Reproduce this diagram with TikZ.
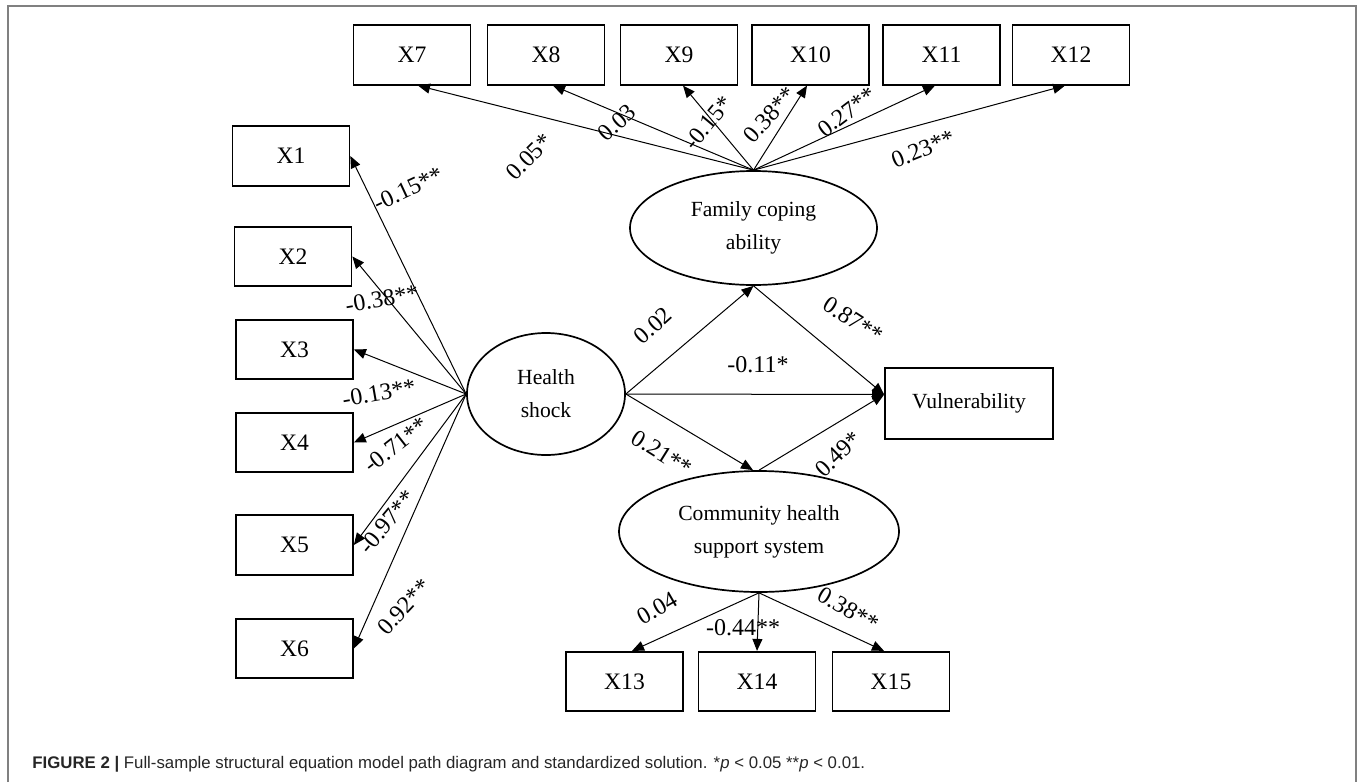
\documentclass[tikz,border=0pt]{standalone}
\usepackage{fontspec}
\setmainfont{Liberation Serif}
\newfontfamily\capfont{Liberation Sans}
\usetikzlibrary{shapes.geometric,arrows.meta}
\begin{document}
\begin{tikzpicture}[x=0.5pt,y=-0.5pt,
  obs/.style={draw, line width=0.85pt, minimum width=58.5pt, minimum height=29.75pt, inner sep=0pt, font=\fontsize{11.8}{13}\selectfont},
  lat/.style={draw, ellipse, line width=0.85pt, inner sep=0pt, align=center, font=\fontsize{10.8}{16.5}\selectfont},
  arr/.style={line width=0.5pt, -{Triangle[length=6pt,width=5pt]}},
  lab/.style={font=\fontsize{12}{13}\selectfont, inner sep=0pt}
]
\useasboundingbox (0,0) rectangle (1360,782);
\draw[black!50, line width=0.8pt] (7.7,782) -- (7.7,5.7) -- (1355.7,5.7) -- (1355.7,782);

% observed variables
\node[obs] (x1) at (291,156) {X1};
\node[obs] (x2) at (293,256.5) {X2};
\node[obs] (x3) at (294.5,349.5) {X3};
\node[obs] (x4) at (294.5,442.5) {X4};
\node[obs] (x5) at (294.5,545) {X5};
\node[obs] (x6) at (294.5,648.5) {X6};
\node[obs] (x7) at (412,55) {X7};
\node[obs] (x8) at (546,55) {X8};
\node[obs] (x9) at (679,55) {X9};
\node[obs] (x10) at (810.5,55) {X10};
\node[obs] (x11) at (941.5,55) {X11};
\node[obs] (x12) at (1071,55) {X12};
\node[obs] (x13) at (624.5,681.5) {X13};
\node[obs] (x14) at (757,681.5) {X14};
\node[obs] (x15) at (891,681.5) {X15};
\node[obs, minimum width=84pt, minimum height=35.75pt, font=\fontsize{10.8}{13}\selectfont] (vul) at (969,403.5) {Vulnerability};

% latent variables
\node[lat, minimum width=79pt, minimum height=61pt] (hs) at (546,394) {Health\\shock};
\node[lat, minimum width=123.5pt, minimum height=57pt] (fam) at (753.5,228) {Family coping\\ability};
\node[lat, minimum width=140pt, minimum height=60.5pt] (com) at (759,531.5) {Community health\\support system};

% connectors
\draw[arr] (hs.west) -- (x1.east);
\draw[arr] (hs.west) -- (x2.east);
\draw[arr] (hs.west) -- (x3.east);
\draw[arr] (hs.west) -- (x4.east);
\draw[arr] (hs.west) -- (x5.east);
\draw[arr] (hs.west) -- (x6.east);
\draw[arr] (fam.north) -- ([xshift=3pt]x7.south);
\draw[arr] (fam.north) -- ([xshift=3.5pt]x8.south);
\draw[arr] (fam.north) -- ([xshift=2pt]x9.south);
\draw[arr] (fam.north) -- ([xshift=-1.75pt]x10.south);
\draw[arr] (fam.north) -- ([xshift=-3.25pt]x11.south);
\draw[arr] (fam.north) -- ([xshift=-3pt]x12.south);
\coordinate (vt) at ([yshift=4.5pt]vul.west);
\draw[arr] (hs.east) -- (fam.south);
\draw[arr] (hs.east) -- (vt);
\draw[arr] (hs.east) -- ([xshift=-3pt]com.north);
\draw[arr] (fam.south) -- (vt);
\draw[arr] (com.north) -- (vt);
\draw[arr] (com.south) -- ([xshift=3.75pt]x13.north);
\draw[arr] (com.south) -- (x14.north);
\draw[arr] (com.south) -- ([xshift=-3.5pt]x15.north);

% labels
\node[lab, rotate=25] (l1) at (408,189) {-0.15**};
\node[lab, rotate=10] (l2) at (382,299) {-0.38**};
\node[lab, rotate=10] (l3) at (379,393) {-0.13**};
\node[lab, rotate=38] (l4) at (396,445) {-0.71**};
\node[lab, rotate=50] (l5) at (387,522) {-0.97**};
\node[lab, rotate=47] (l6) at (404,607) {0.92**};
\node[lab, rotate=45] (l7) at (529,157) {0.05*};
\node[lab, rotate=42] (l8) at (617,123) {0.03};
\node[lab, rotate=50] (l9) at (708,123) {-0.15*};
\node[lab, rotate=48] (l10) at (770,115) {0.38**};
\node[lab, rotate=37] (l11) at (847,112) {0.27**};
\node[lab, rotate=22] (l12) at (923,149) {0.23**};
\node[lab, rotate=42] (l13) at (653,326) {0.02};
\node[lab] (l14) at (758,365) {-0.11*};
\node[lab, rotate=-33] (l15) at (853,320) {0.87**};
\node[lab, rotate=-32] (l16) at (662,453) {0.21**};
\node[lab, rotate=44] (l17) at (838,454) {0.49*};
\node[lab, rotate=30] (l18) at (657,608) {0.04};
\node[lab] (l19) at (743,628) {-0.44**};
\node[lab, rotate=-30] (l20) at (848,609) {0.38**};

% caption
\node[anchor=base west, inner sep=0pt, text=black!85, font=\capfont\fontsize{8.4}{9}\selectfont] (cap) at (32,768)
  {\textbf{FIGURE 2 |} Full-sample structural equation model path diagram and standardized solution. *\textit{p} < 0.05 **\textit{p} < 0.01.};
\end{tikzpicture}
\end{document}
